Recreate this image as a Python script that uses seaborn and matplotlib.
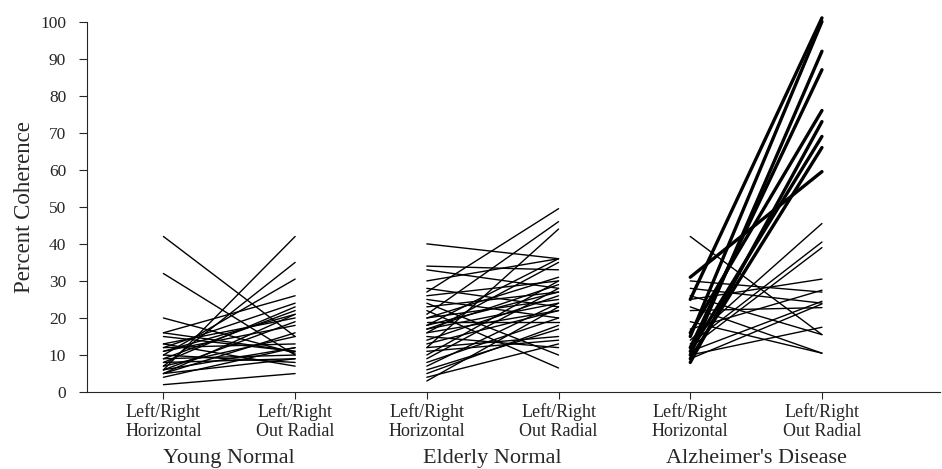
import matplotlib
matplotlib.use("Agg")
import matplotlib.pyplot as plt
import seaborn as sns
import pandas as pd

# Paired coherence values (horizontal, out radial) per subject
young_horizontal = [42, 32, 20, 16, 6, 7, 10, 16, 12, 8, 9, 5, 13, 6, 11, 7, 12, 4, 15, 9, 8, 10, 2, 5, 6, 13, 11, 5]
young_radial     = [15, 10, 10.5, 11, 42, 35, 30.5, 26, 24, 23, 22, 21, 20, 19, 18, 15, 13, 12, 11, 10, 9, 8, 5, 9, 12, 7, 21, 16]

elderly_horizontal = [40, 34, 33, 27, 21, 12, 30, 26, 24, 22, 18, 17, 18, 17, 16, 20, 23, 25, 14, 13, 10, 9, 12, 11, 8, 7, 6, 5, 3, 4, 15, 19, 28, 16, 20]
elderly_radial     = [36, 33, 28, 49.5, 46, 44, 36, 30, 10, 6.5, 36, 29, 27, 24, 22, 25, 27, 20, 26, 22, 30, 28, 15, 14, 20, 24, 17, 18, 23, 13, 12, 19, 23, 35, 31]

ad_horizontal = [42, 30, 28, 25, 22, 23, 19, 14, 13, 12, 11, 10, 9, 17, 26,
                 25, 15, 10, 12, 16, 8, 11, 9, 31]
ad_radial     = [15.5, 27, 24, 30.5, 22.8, 10.5, 10.5, 45.5, 40.5, 39, 24.5, 17.5, 23.8, 27.5, 15.5,
                 101, 100, 92, 87, 76, 73, 69, 66, 59.5]
ad_bold       = [False] * 15 + [True] * 9

groups = ["Young Normal", "Elderly Normal", "Alzheimer's Disease"]
conditions = ["Left/Right\nHorizontal", "Left/Right\nOut Radial"]

rows = []
sid = 0
for g, (hz, rd, bold) in enumerate([
        (young_horizontal, young_radial, [False] * len(young_horizontal)),
        (elderly_horizontal, elderly_radial, [False] * len(elderly_horizontal)),
        (ad_horizontal, ad_radial, ad_bold)]):
    for h, r, b in zip(hz, rd, bold):
        rows.append(dict(subject=sid, pos=2 * g, value=h, weight="bold" if b else "thin"))
        rows.append(dict(subject=sid, pos=2 * g + 1, value=r, weight="bold" if b else "thin"))
        sid += 1
df = pd.DataFrame(rows)

sns.set_style("ticks")
plt.rcParams["font.family"] = ["Liberation Serif", "DejaVu Serif"]

fig = plt.figure(figsize=(9.42, 4.69), dpi=100)
ax = fig.add_axes([0.0924, 0.164, 0.906, 0.79])

sns.lineplot(data=df, x="pos", y="value", units="subject", estimator=None,
             size="weight", sizes={"thin": 1.0, "bold": 2.4}, color="black",
             legend=False, ax=ax, clip_on=False)

ax.set_xlim(-0.58, 5.9)
ax.set_ylim(0, 100)
ax.set_yticks(range(0, 101, 10))
ax.set_xticks(range(6))
ax.set_xticklabels(conditions * 3, fontsize=13, linespacing=1.12)
ax.tick_params(axis="y", labelsize=12.5, length=6, width=0.8, direction="out", pad=9)
ax.tick_params(axis="x", length=5, width=0.8, direction="out", pad=3)
ax.set_xlabel("")
ax.set_ylabel("Percent Coherence", fontsize=16.5, labelpad=4)

for s in ["top", "right"]:
    ax.spines[s].set_visible(False)
for s in ["left", "bottom"]:
    ax.spines[s].set_linewidth(0.8)

for i, g in enumerate(groups):
    ax.text(2 * i + 0.5, -0.178, g, transform=ax.get_xaxis_transform(),
            ha="center", va="center", fontsize=16)

fig.savefig("out.png", dpi=100)
